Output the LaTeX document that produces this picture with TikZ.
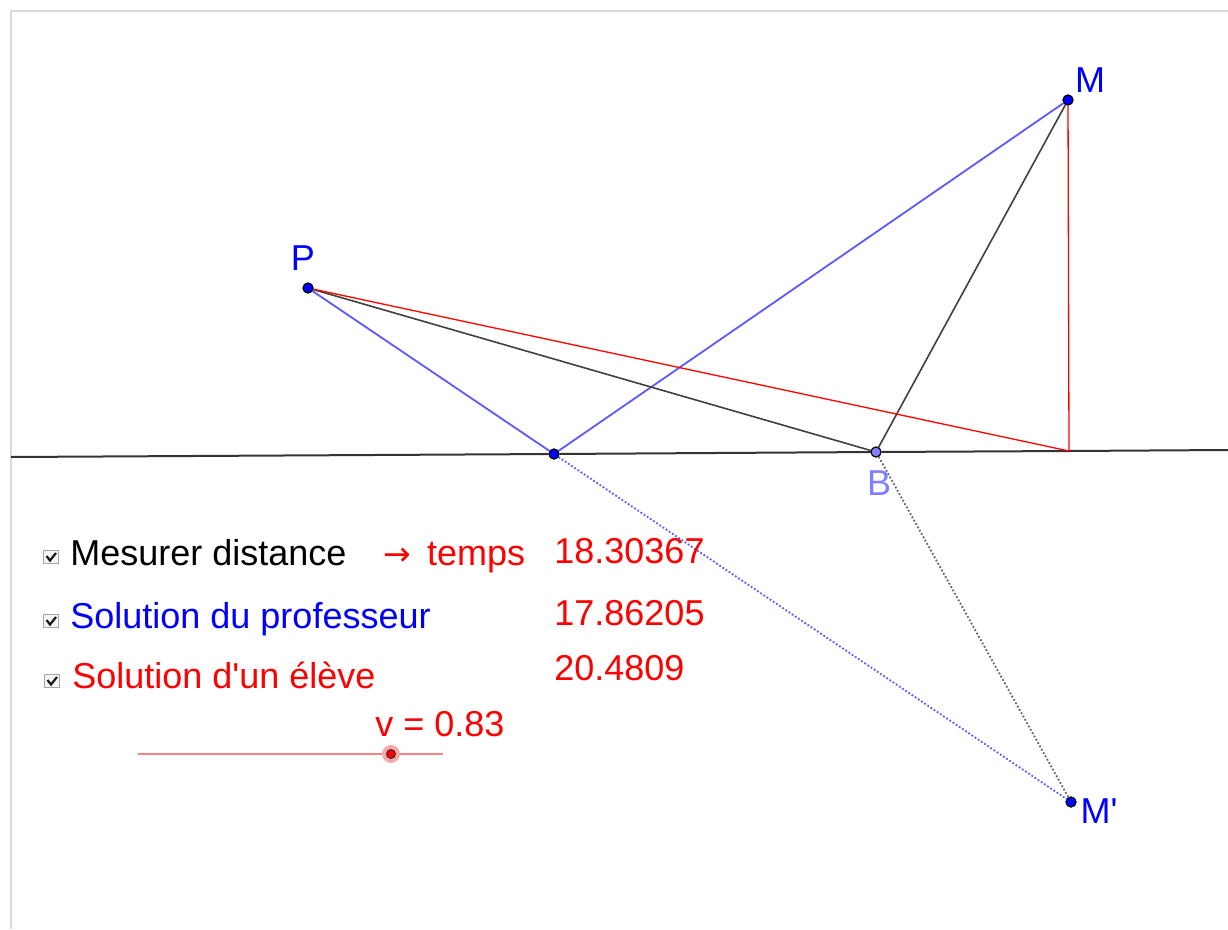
\documentclass[tikz,border=0pt]{standalone}
\usepackage{fontspec}
\usepackage{tikz}
\usepackage{xcolor}
\usetikzlibrary{arrows.meta, positioning}
\newfontfamily\ggfont{Liberation Sans}
\newfontfamily\arrowfont{DejaVu Sans}
\definecolor{ggblue}{RGB}{0,0,255}
\definecolor{ggline}{RGB}{90,90,255}
\definecolor{ggred}{RGB}{255,0,0}
\definecolor{ggpale}{RGB}{128,128,255}
\definecolor{ggframe}{RGB}{218,218,218}

\begin{document}
\begin{tikzpicture}[x=1pt, y=-1pt, thick,
    pnt/.style={circle, draw=black, fill=ggblue, line width=1pt, inner sep=0pt, minimum size=10pt},
    ptlabel/.style={anchor=base, text=ggblue, font=\ggfont\fontsize{36}{40}\selectfont},
    txt/.style={anchor=base west, inner sep=0pt, font=\ggfont\fontsize{36}{40}\selectfont},
    chkbox/.style={draw=gray!70, fill=gray!8, line width=0.8pt, minimum width=15pt, minimum height=13pt, inner sep=0pt}]
    \useasboundingbox (0,0) rectangle (1228,929);
    % Frame
    \draw[ggframe, line width=2pt] (11,929) -- (11,11) -- (1228,11);

    % Nodes
    \node[pnt] (P) at (308,288) {};
    \node[pnt] (M) at (1068,100) {};
    \node[pnt] (Mp) at (1071,802) {};
    \node[pnt] (A) at (554,454) {};
    \node[pnt, fill=ggpale] (B) at (876,452) {};
    \coordinate (H) at (1069,451);
    \coordinate (L1) at (11,457);
    \coordinate (L2) at (1228,450);

    \node[ptlabel] (lP) at (303,270) {P};
    \node[ptlabel] (lM) at (1090,92) {M};
    \node[ptlabel] (lMp) at (1099,823) {M'};
    \node[ptlabel, text=ggpale] (lB) at (879,495) {B};

    % Edges
    \draw[black!80, line width=2pt] (L1) -- (A) -- (B) -- (H) -- (L2);
    \draw[ggline, line width=1.8pt] (P) -- (A);
    \draw[ggline, line width=1.8pt] (A) -- (M);
    \draw[black!75, line width=1.6pt] (P) -- (B);
    \draw[black!75, line width=1.6pt] (B) -- (M);
    \draw[ggred, line width=1.3pt] (P) -- (H);
    \draw[ggred, line width=1.3pt] (H) -- (M);
    \draw[ggline, line width=1.8pt, dotted] (A) -- (Mp);
    \draw[black!60, line width=1.8pt, dotted] (B) -- (Mp);
    \node[pnt] at (P) {};
    \node[pnt] at (M) {};
    \node[pnt] at (Mp) {};
    \node[pnt] at (A) {};
    \node[pnt, fill=ggpale] at (B) {};

    % Checkboxes
    \foreach \n/\x/\y in {c1/51/557, c2/51/621, c3/52/681} {
        \node[chkbox] (\n) at (\x,\y) {};
        \draw[black!90, line width=2.2pt] ([xshift=-4.5pt, yshift=1pt]\n.center) -- ([xshift=-1pt, yshift=-3.5pt]\n.center) -- ([xshift=5pt, yshift=4pt]\n.center);
    }

    % Texts
    \node[txt] (t1) at (70,565) {Mesurer distance};
    \node[txt, text=ggred] (t2) at (383,565) {{\arrowfont\fontsize{33}{38}\selectfont →}\hspace{6pt} temps};
    \node[txt, text=ggblue] (t3) at (70,628) {Solution du professeur};
    \node[txt, text=ggred] (t4) at (72,688) {Solution d'un élève};
    \node[txt, text=ggred] (n1) at (554,563) {18.30367};
    \node[txt, text=ggred] (n2) at (554,625) {17.86205};
    \node[txt, text=ggred] (n3) at (554,680) {20.4809};
    \node[txt, text=ggred] (v) at (375,736) {v = 0.83};

    % Slider
    \coordinate (s1) at (138,754);
    \coordinate (s2) at (443,754);
    \draw[ggred!50, line width=2pt] (s1) -- (s2);
    \node[circle, fill=ggred!35, inner sep=0pt, minimum size=18pt] (knobhalo) at (391,754) {};
    \node[circle, draw=black!80, fill=ggred, line width=1pt, inner sep=0pt, minimum size=9pt] (knob) at (knobhalo) {};
\end{tikzpicture}
\end{document}
